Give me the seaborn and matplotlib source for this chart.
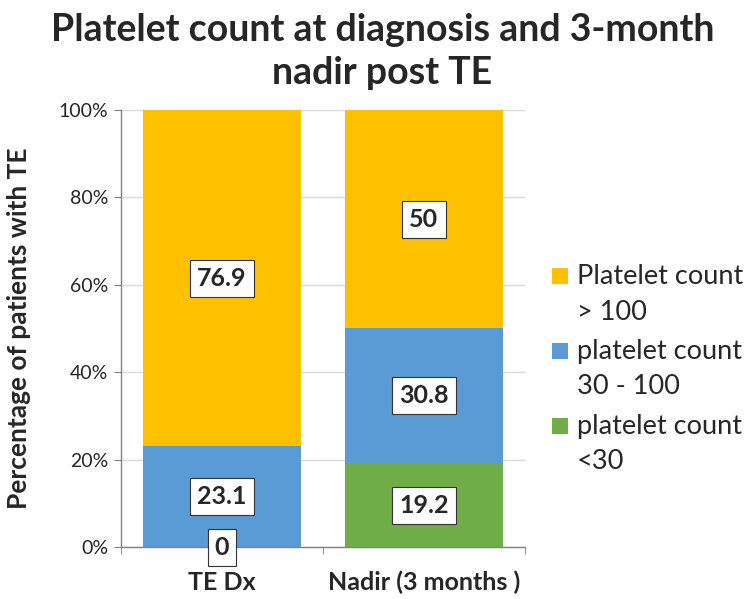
import numpy as np
import pandas as pd
import matplotlib.pyplot as plt
import seaborn as sns
from matplotlib.ticker import PercentFormatter
from matplotlib.patches import Rectangle

categories = ['TE Dx', 'Nadir (3 months )']
low = [0, 19.2]        # platelet count <30
mid = [23.1, 30.8]     # platelet count 30 - 100
high = [76.9, 50]      # Platelet count > 100
series_labels = ['Platelet count\n> 100', 'platelet count\n30 - 100', 'platelet count\n<30']
colors = ['#FFC000', '#5B9BD5', '#70AD47']

sns.set_style('white')
plt.rcParams['font.family'] = ['Lato', 'DejaVu Sans']

df = pd.DataFrame({'cat': categories, 'low': low, 'mid': mid, 'high': high})
df['cum_low'] = df['low']
df['cum_mid'] = df['low'] + df['mid']
df['cum_high'] = df['cum_mid'] + df['high']

fig = plt.figure(figsize=(7.5, 5.99), dpi=100)
ax = fig.add_axes([0.161, 0.0868, 0.539, 0.7296])

# stacked bars: draw cumulative totals from the top down
for col, c in zip(['cum_high', 'cum_mid', 'cum_low'], colors):
    sns.barplot(data=df, x='cat', y=col, color=c, width=0.78, ax=ax,
                saturation=1, edgecolor='none', zorder=2)

# boxed value labels at segment centres
for i in range(len(categories)):
    bottom = 0
    for val in [low[i], mid[i], high[i]]:
        ax.text(i, bottom + val / 2, f'{val:g}', ha='center', va='center',
                fontsize=18, fontweight='bold', zorder=5, clip_on=False,
                bbox=dict(boxstyle='square,pad=0.28', fc='white', ec='#333333', lw=0.8))
        bottom += val

ax.set_ylim(0, 100)
ax.set_xlim(-0.5, 1.5)
ax.yaxis.set_major_formatter(PercentFormatter(decimals=0))
ax.set_yticks(np.arange(0, 101, 20))
ax.yaxis.grid(True, color='#D9D9D9', lw=1, zorder=0)
ax.set_axisbelow(True)
for s in ['top', 'right']:
    ax.spines[s].set_visible(False)
for s in ['left', 'bottom']:
    ax.spines[s].set_color('#808080')
    ax.spines[s].set_linewidth(1)
ax.tick_params(axis='y', which='major', left=True, length=5, color='#808080',
               labelsize=14, pad=4)
ax.tick_params(axis='x', which='major', length=0, labelsize=18, pad=17)
ax.set_xticks([-0.5, 0.5, 1.5], minor=True)
ax.tick_params(axis='x', which='minor', bottom=True, length=5, color='#808080')
for lbl in ax.get_xticklabels():
    lbl.set_fontweight('bold')
ax.set_xlabel('')
ax.set_ylabel('Percentage of patients with TE', fontsize=19, fontweight='bold', labelpad=20)

fig.suptitle('Platelet count at diagnosis and 3-month\nnadir post TE', x=0.51, y=0.978,
             fontsize=27, fontweight='bold', linespacing=1.32)

# legend: square aligned with first line of each two-line label
for k, (lab, c) in enumerate(zip(series_labels, colors)):
    yc = 0.539 - k * 0.125
    fig.patches.append(Rectangle((0.736, yc - 0.0133), 0.0213, 0.0267, facecolor=c,
                                 edgecolor='none', transform=fig.transFigure))
    fig.text(0.769, yc + 0.02, lab, fontsize=19.5, va='top', ha='left', linespacing=1.52)

fig.savefig('out.png', dpi=100)
